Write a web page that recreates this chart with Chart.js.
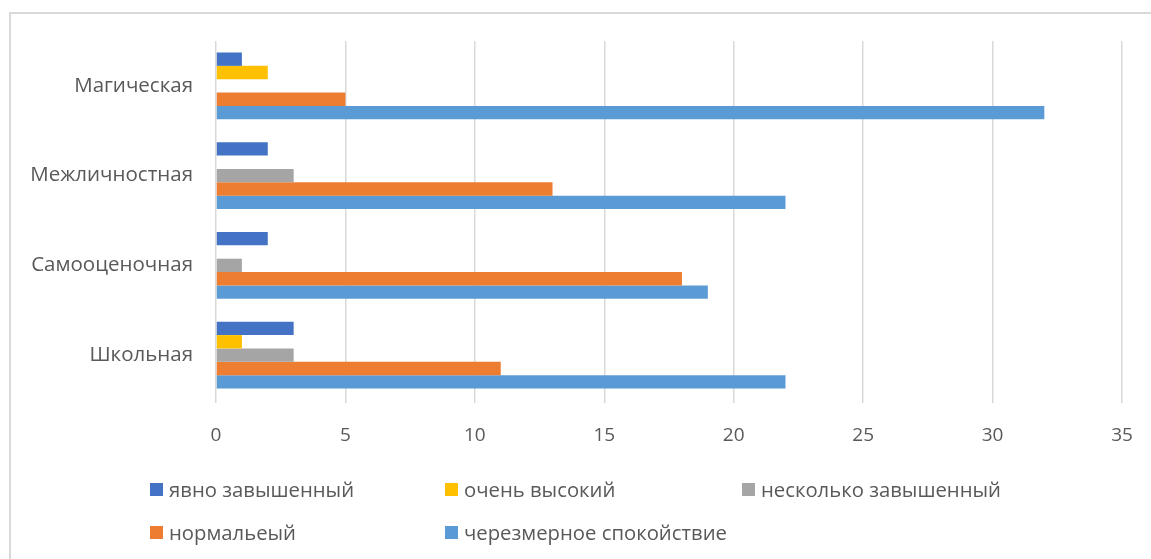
<!DOCTYPE html>
<html>
<head>
<meta charset="utf-8">
<script src="https://cdn.jsdelivr.net/npm/chart.js@4.4.1/dist/chart.umd.min.js"></script>
<style>
  html, body { margin: 0; padding: 0; background: #fff; overflow: hidden; }
  body { width: 1151px; height: 559px; position: relative; font-family: "Open Sans", sans-serif; }
  #frame { position: absolute; left: 9px; top: 12px; width: 1200px; height: 600px; border: 2px solid #d9d9d9; box-sizing: border-box; }
  #wrap { position: absolute; left: 0; top: 0; width: 1160px; height: 460px; }
  #legend { position: absolute; left: 0; top: 0; width: 1151px; height: 559px; pointer-events: none; }
  .item { position: absolute; display: flex; align-items: center; font-size: 20.3px; color: #595959; white-space: nowrap; }
  .box { width: 13px; height: 13px; margin-right: 6px; }
</style>
</head>
<body>
<div id="frame"></div>
<div id="wrap"><canvas id="myChart"></canvas></div>
<div id="legend"></div>
<script>
// categories, top to bottom
let categories = ['Магическая', 'Межличностная', 'Самооценочная', 'Школьная'];

// series
let seriesNames = ['явно завышенный', 'очень высокий', 'несколько завышенный', 'нормальеый', 'черезмерное спокойствие'];
let colors = ['#4472C4', '#FFC000', '#A5A5A5', '#ED7D31', '#5B9BD5'];

let yavno = [1, 2, 2, 3];
let ochen = [2, 0, 0, 1];
let neskolko = [0, 3, 1, 3];
let normal = [5, 13, 18, 11];
let spokoystvie = [32, 22, 19, 22];

let seriesValues = [yavno, ochen, neskolko, normal, spokoystvie];

// x axis ticks
let xMin = 0;
let xMax = 35;
let xStep = 5;

let ctx = document.getElementById("myChart").getContext('2d');

let chart = new Chart(ctx, {
    type: 'bar',
    data: {
        labels: categories,
        datasets: seriesNames.map(function (name, i) {
            return {
                label: name,
                data: seriesValues[i],
                backgroundColor: colors[i],
                borderWidth: 0,
                categoryPercentage: 0.744,
                barPercentage: 1.0
            };
        })
    },
    options: {
        indexAxis: 'y',
        responsive: true,
        maintainAspectRatio: false,
        animation: false,
        layout: {
            padding: { left: 0, right: 38, top: 41, bottom: 0 }
        },
        plugins: {
            legend: { display: false },
            title: { display: false },
            tooltip: { enabled: false }
        },
        scales: {
            x: {
                min: xMin,
                max: xMax,
                ticks: {
                    stepSize: xStep,
                    color: '#595959',
                    font: { family: 'Open Sans', size: 19 },
                    padding: 21
                },
                grid: {
                    color: '#d9d9d9',
                    lineWidth: 1.5,
                    tickLength: 3,
                    drawTicks: true
                },
                border: { display: false },
                afterFit: function (scale) { scale.height = 60; }
            },
            y: {
                ticks: {
                    color: '#595959',
                    font: { family: 'Open Sans', size: 20.5 },
                    padding: 15
                },
                grid: { display: false },
                border: { display: false },
                afterFit: function (scale) { scale.width = 216; }
            }
        }
    }
});

// legend laid out in three columns like the original
let legendPos = [[150, 489], [445, 489], [742, 489], [150, 532], [445, 532]];
let legendDiv = document.getElementById('legend');
chart.data.datasets.forEach(function (ds, i) {
    let item = document.createElement('div');
    item.className = 'item';
    item.style.left = legendPos[i][0] + 'px';
    item.style.top = (legendPos[i][1] - 14) + 'px';
    let box = document.createElement('span');
    box.className = 'box';
    box.style.background = ds.backgroundColor;
    let txt = document.createElement('span');
    txt.textContent = ds.label;
    item.appendChild(box);
    item.appendChild(txt);
    legendDiv.appendChild(item);
});
</script>
</body>
</html>
